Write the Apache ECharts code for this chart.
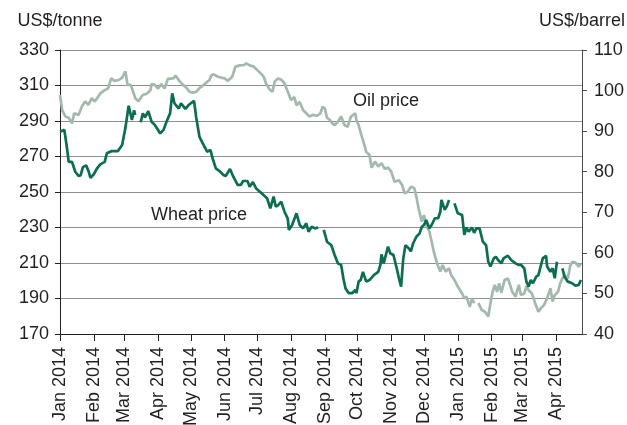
<!DOCTYPE html>
<html>
<head>
<meta charset="utf-8">
<script src="https://cdn.jsdelivr.net/npm/echarts@6/dist/echarts.min.js"></script>
<style>
  html, body { margin: 0; padding: 0; background: #fff; }
  #main { width: 627px; height: 425px; }
</style>
</head>
<body>
<div id="main"></div>
<script>
const monthNames = ['Jan', 'Feb', 'Mar', 'Apr', 'May', 'Jun', 'Jul', 'Aug', 'Sep', 'Oct', 'Nov', 'Dec']
const firstDay = '2014-01-01'
const lastDay = '2015-04-25'
const wheatTicks = [170, 190, 210, 230, 250, 270, 290, 310, 330]

// US$/tonne
const wheat = [
  ['2014-01-01', 284], ['2014-01-05', 285], ['2014-01-07', 276.5], ['2014-01-09', 267], ['2014-01-12', 267],
  ['2014-01-15', 261.4], ['2014-01-18', 259], ['2014-01-20', 259.5], ['2014-01-22', 264], ['2014-01-25', 265],
  ['2014-01-27', 262], ['2014-01-29', 258], ['2014-02-01', 260], ['2014-02-04', 263.3], ['2014-02-07', 265.6],
  ['2014-02-11', 267], ['2014-02-13', 271.8], ['2014-02-17', 273], ['2014-02-23', 273], ['2014-02-27', 276.5],
  ['2014-03-02', 286], ['2014-03-03', 287], ['2014-03-05', 298.6], ['2014-03-08', 290.6], ['2014-03-10', 296],
  ['2014-03-11', 293.4], ['2014-03-13', null], ['2014-03-16', 289.3], ['2014-03-18', 294.3], ['2014-03-20', 292],
  ['2014-03-23', 295.6], ['2014-03-26', 289.6], ['2014-03-29', 287.8], ['2014-04-03', 283], ['2014-04-06', 285],
  ['2014-04-09', 290], ['2014-04-12', 294.3], ['2014-04-14', 305.6], ['2014-04-16', 300], ['2014-04-20', 297],
  ['2014-04-22', 300], ['2014-04-26', 296.8], ['2014-04-29', 299], ['2014-05-04', 301.3], ['2014-05-06', 292],
  ['2014-05-09', 281], ['2014-05-12', 277.4], ['2014-05-16', 272.7], ['2014-05-19', 273.7], ['2014-05-21', 269],
  ['2014-05-24', 263.3], ['2014-05-28', 261.4], ['2014-05-31', 259.6], ['2014-06-02', 259], ['2014-06-06', 263],
  ['2014-06-09', 258.6], ['2014-06-13', 254], ['2014-06-16', 254], ['2014-06-18', 256.2], ['2014-06-22', 256.2],
  ['2014-06-24', 253], ['2014-06-27', 255.6], ['2014-06-30', 252], ['2014-07-05', 249.3], ['2014-07-10', 246.5],
  ['2014-07-13', 240.8], ['2014-07-16', 247.4], ['2014-07-18', 241.7], ['2014-07-20', 242.5], ['2014-07-23', 244.5],
  ['2014-07-26', 238.9], ['2014-07-29', 235], ['2014-07-30', 228.6], ['2014-08-02', 231.4], ['2014-08-06', 238],
  ['2014-08-09', 231.4], ['2014-08-12', 229.5], ['2014-08-15', 232.4], ['2014-08-17', 227.6], ['2014-08-20', 230.4],
  ['2014-08-23', 229.5], ['2014-08-26', 230], ['2014-08-28', null], ['2014-08-31', 228.6], ['2014-09-03', 222],
  ['2014-09-05', 221], ['2014-09-07', 220], ['2014-09-10', 214.5], ['2014-09-13', 209.8], ['2014-09-16', 208.9],
  ['2014-09-18', 201.4], ['2014-09-20', 195.7], ['2014-09-23', 193], ['2014-09-26', 193], ['2014-09-29', 194.8],
  ['2014-09-30', 193], ['2014-10-02', 199.5], ['2014-10-04', 200.5], ['2014-10-06', 205], ['2014-10-09', 199.5],
  ['2014-10-12', 200.4], ['2014-10-16', 203.2], ['2014-10-20', 205], ['2014-10-22', 208.9], ['2014-10-23', 214.9],
  ['2014-10-25', 209.8], ['2014-10-29', 219.2], ['2014-10-31', 215.5], ['2014-11-03', 214.5], ['2014-11-06', 207],
  ['2014-11-08', 201.4], ['2014-11-10', 196.7], ['2014-11-12', 212.6], ['2014-11-14', 220], ['2014-11-17', 218.3],
  ['2014-11-19', 216.5], ['2014-11-21', 221], ['2014-11-24', 224.8], ['2014-11-27', 226.7], ['2014-11-29', 230.4],
  ['2014-12-01', 231.4], ['2014-12-03', 234.2], ['2014-12-06', 229.5], ['2014-12-08', 231.4], ['2014-12-11', 235.2],
  ['2014-12-14', 235.2], ['2014-12-16', 238.9], ['2014-12-17', 245.5], ['2014-12-20', 240], ['2014-12-22', 242],
  ['2014-12-24', 245.5], ['2014-12-26', null], ['2014-12-29', 243.6], ['2015-01-01', 238], ['2015-01-05', 237],
  ['2015-01-07', 225.8], ['2015-01-09', 230], ['2015-01-11', 227.6], ['2015-01-14', 230], ['2015-01-16', 227],
  ['2015-01-18', 229.5], ['2015-01-21', 229.5], ['2015-01-24', 222], ['2015-01-27', 220], ['2015-01-29', 210.7],
  ['2015-01-31', 208], ['2015-02-03', 212.6], ['2015-02-05', 213.5], ['2015-02-07', 211.7], ['2015-02-10', 209.8],
  ['2015-02-12', 212.6], ['2015-02-16', 214.1], ['2015-02-19', 211.7], ['2015-02-23', 209.8], ['2015-02-26', 208.9],
  ['2015-02-28', 209], ['2015-03-03', 207], ['2015-03-05', 199.5], ['2015-03-07', 196.7], ['2015-03-09', 200.4],
  ['2015-03-11', 198.6], ['2015-03-14', 202.3], ['2015-03-16', 203.2], ['2015-03-18', 208], ['2015-03-20', 212.6],
  ['2015-03-23', 214.1], ['2015-03-24', 208], ['2015-03-27', 205], ['2015-03-29', 207], ['2015-03-31', 201.4],
  ['2015-04-02', 210.7], ['2015-04-04', null], ['2015-04-07', 207], ['2015-04-09', 202.3], ['2015-04-12', 199.5],
  ['2015-04-16', 198.6], ['2015-04-19', 197.2], ['2015-04-22', 197.7], ['2015-04-24', 200.4]
]

// US$/barrel
const oil = [
  ['2014-01-01', 98.9], ['2014-01-03', 95.2], ['2014-01-06', 93.6], ['2014-01-09', 93.3], ['2014-01-12', 91.9],
  ['2014-01-14', 94.4], ['2014-01-18', 94], ['2014-01-21', 96], ['2014-01-24', 97.3], ['2014-01-27', 96.5],
  ['2014-01-30', 98.1], ['2014-02-02', 97.3], ['2014-02-07', 99.3], ['2014-02-11', 100.1], ['2014-02-14', 100.5],
  ['2014-02-17', 103], ['2014-02-20', 102.4], ['2014-02-24', 102.6], ['2014-02-27', 103.2], ['2014-03-02', 104.7],
  ['2014-03-04', 101.4], ['2014-03-07', 101.4], ['2014-03-11', 98.1], ['2014-03-14', 97.4], ['2014-03-18', 98.9],
  ['2014-03-22', 99.3], ['2014-03-25', 100.1], ['2014-03-26', 101.6], ['2014-03-29', 101.4], ['2014-04-01', 100.5],
  ['2014-04-04', 101.6], ['2014-04-07', 100.5], ['2014-04-10', 102.9], ['2014-04-15', 103], ['2014-04-17', 103.7],
  ['2014-04-21', 102.2], ['2014-04-24', 101.4], ['2014-04-27', 100.7], ['2014-04-30', 99.7], ['2014-05-03', 99.5],
  ['2014-05-06', 99.7], ['2014-05-09', 100.6], ['2014-05-12', 101.2], ['2014-05-16', 102.2], ['2014-05-18', 102.5],
  ['2014-05-20', 103.8], ['2014-05-22', 104], ['2014-05-26', 103.4], ['2014-05-29', 103.2], ['2014-06-01', 103],
  ['2014-06-04', 102.4], ['2014-06-08', 103.4], ['2014-06-11', 105.9], ['2014-06-15', 106.2], ['2014-06-19', 106.3],
  ['2014-06-21', 106.7], ['2014-06-24', 106.2], ['2014-06-28', 105.9], ['2014-06-30', 105.3], ['2014-07-04', 104.3],
  ['2014-07-07', 103.4], ['2014-07-09', 101.8], ['2014-07-12', 100.4], ['2014-07-15', 99.7], ['2014-07-17', 102.2],
  ['2014-07-20', 103], ['2014-07-23', 102.7], ['2014-07-26', 101.8], ['2014-07-29', 99.7], ['2014-08-01', 97.7],
  ['2014-08-04', 98.4], ['2014-08-06', 96.4], ['2014-08-09', 97.2], ['2014-08-12', 95.2], ['2014-08-15', 94.4],
  ['2014-08-18', 93.6], ['2014-08-21', 94], ['2014-08-25', 93.8], ['2014-08-28', 94.4], ['2014-08-30', 96],
  ['2014-09-01', 95.6], ['2014-09-03', 93.3], ['2014-09-06', 92.7], ['2014-09-08', 91.9], ['2014-09-10', 91.5],
  ['2014-09-13', 92.3], ['2014-09-16', 93.6], ['2014-09-19', 91.5], ['2014-09-22', 91.1], ['2014-09-25', 93.6],
  ['2014-09-29', 94.4], ['2014-09-30', 92.7], ['2014-10-02', 91.5], ['2014-10-04', 89.5], ['2014-10-06', 87.8],
  ['2014-10-09', 84.9], ['2014-10-12', 84.1], ['2014-10-14', 81], ['2014-10-17', 82.5], ['2014-10-20', 81.3],
  ['2014-10-23', 82.1], ['2014-10-26', 80.7], ['2014-10-29', 81], ['2014-11-01', 80], ['2014-11-04', 77.5],
  ['2014-11-08', 77.9], ['2014-11-11', 76.7], ['2014-11-13', 74.7], ['2014-11-16', 75], ['2014-11-19', 76.3],
  ['2014-11-22', 76], ['2014-11-24', 73.9], ['2014-11-26', 71], ['2014-11-29', 67.7], ['2014-12-01', 69.3],
  ['2014-12-03', 66.9], ['2014-12-06', 65.2], ['2014-12-08', 62.8], ['2014-12-10', 60.3], ['2014-12-13', 57.4],
  ['2014-12-16', 55.4], ['2014-12-18', 57], ['2014-12-21', 55.4], ['2014-12-24', 56.2], ['2014-12-26', 54.5],
  ['2014-12-29', 53.3], ['2015-01-01', 51.7], ['2015-01-05', 50], ['2015-01-07', 48.8], ['2015-01-09', 49.2],
  ['2015-01-12', 46.7], ['2015-01-14', 48.8], ['2015-01-16', 47.6], ['2015-01-18', null], ['2015-01-20', 47.6],
  ['2015-01-23', 45.9], ['2015-01-26', 45.5], ['2015-01-29', 44.3], ['2015-01-31', 47.6], ['2015-02-02', 50.4],
  ['2015-02-04', 52.1], ['2015-02-06', 50.4], ['2015-02-08', 52.5], ['2015-02-10', 50.2], ['2015-02-13', 53.3],
  ['2015-02-16', 53.7], ['2015-02-18', 52.1], ['2015-02-20', 50.4], ['2015-02-23', 49.2], ['2015-02-26', 52.1],
  ['2015-02-28', 49.6], ['2015-03-03', 50], ['2015-03-05', 51.7], ['2015-03-07', 50.8], ['2015-03-10', 50],
  ['2015-03-13', 47.6], ['2015-03-16', 45.5], ['2015-03-18', 46.3], ['2015-03-21', 47.1], ['2015-03-24', 48.8],
  ['2015-03-27', 51.3], ['2015-03-29', 48], ['2015-03-31', 49.6], ['2015-04-03', 50.4], ['2015-04-05', 52.5],
  ['2015-04-07', 53.7], ['2015-04-09', 54.5], ['2015-04-12', 53.7], ['2015-04-14', 56.6], ['2015-04-16', 57.8],
  ['2015-04-19', 57.6], ['2015-04-22', 56.6], ['2015-04-24', 57.4]
]

// one category per day
const days = []
for (let t = Date.parse(firstDay); t <= Date.parse(lastDay); t += 86400000) {
  days.push(new Date(t).toISOString().slice(0, 10))
}
const isMonthStart = (i, d) => d.slice(8) === '01'

const textColor = '#231f20'
const font = 'Liberation Sans, Arial, Helvetica, sans-serif'

const chart = echarts.init(document.getElementById('main'), null, { renderer: 'canvas' })
chart.setOption({
  animation: false,
  textStyle: { fontFamily: font, color: textColor },
  grid: { left: 60, right: 45, top: 50, bottom: 91, containLabel: false, outerBoundsMode: 'none' },
  xAxis: {
    type: 'category',
    data: days,
    boundaryGap: false,
    axisLine: { lineStyle: { color: '#231f20', width: 1 } },
    axisTick: { interval: isMonthStart, length: 7, lineStyle: { color: '#231f20' } },
    axisLabel: {
      interval: isMonthStart,
      rotate: 90,
      margin: 13,
      fontSize: 18,
      color: textColor,
      fontFamily: font,
      formatter: (d) => monthNames[+d.slice(5, 7) - 1] + ' ' + d.slice(0, 4),
    },
    splitLine: { show: false },
  },
  yAxis: [
    {
      type: 'value',
      min: 170,
      max: 330,
      name: 'US$/tonne',
      nameGap: 20,
      nameTextStyle: { fontSize: 18, color: textColor, fontFamily: font },
      axisLine: { show: true, lineStyle: { color: '#231f20' } },
      axisTick: { show: true, length: 5, customValues: wheatTicks, lineStyle: { color: '#231f20' } },
      axisLabel: { customValues: wheatTicks, fontSize: 18, margin: 11, color: textColor, fontFamily: font },
      splitLine: { show: true, lineStyle: { color: '#8f8f8f', width: 1 } },
    },
    {
      type: 'value',
      min: 40,
      max: 110,
      interval: 10,
      position: 'right',
      name: 'US$/barrel',
      nameGap: 20,
      nameTextStyle: { fontSize: 18, color: textColor, fontFamily: font },
      axisLine: { show: true, lineStyle: { color: '#4d4d4d' } },
      axisTick: { show: true, length: 5, lineStyle: { color: '#4d4d4d' } },
      axisLabel: { fontSize: 18, margin: 12, color: textColor, fontFamily: font },
      splitLine: { show: false },
    },
  ],
  graphic: [
    { type: 'text', left: 353, top: 92, style: { text: 'Oil price', fontSize: 18, fontFamily: font, fill: textColor } },
    { type: 'text', left: 151, top: 206, style: { text: 'Wheat price', fontSize: 18, fontFamily: font, fill: textColor } },
  ],
  series: [
    {
      name: 'Oil price',
      type: 'line',
      yAxisIndex: 1,
      data: oil,
      showSymbol: false,
      connectNulls: false,
      lineStyle: { color: '#a2b9ab', width: 2.7 },
      z: 2,
    },
    {
      name: 'Wheat price',
      type: 'line',
      yAxisIndex: 0,
      data: wheat,
      showSymbol: false,
      connectNulls: false,
      lineStyle: { color: '#0b6e50', width: 2.7 },
      z: 3,
    },
  ],
})
</script>
</body>
</html>
